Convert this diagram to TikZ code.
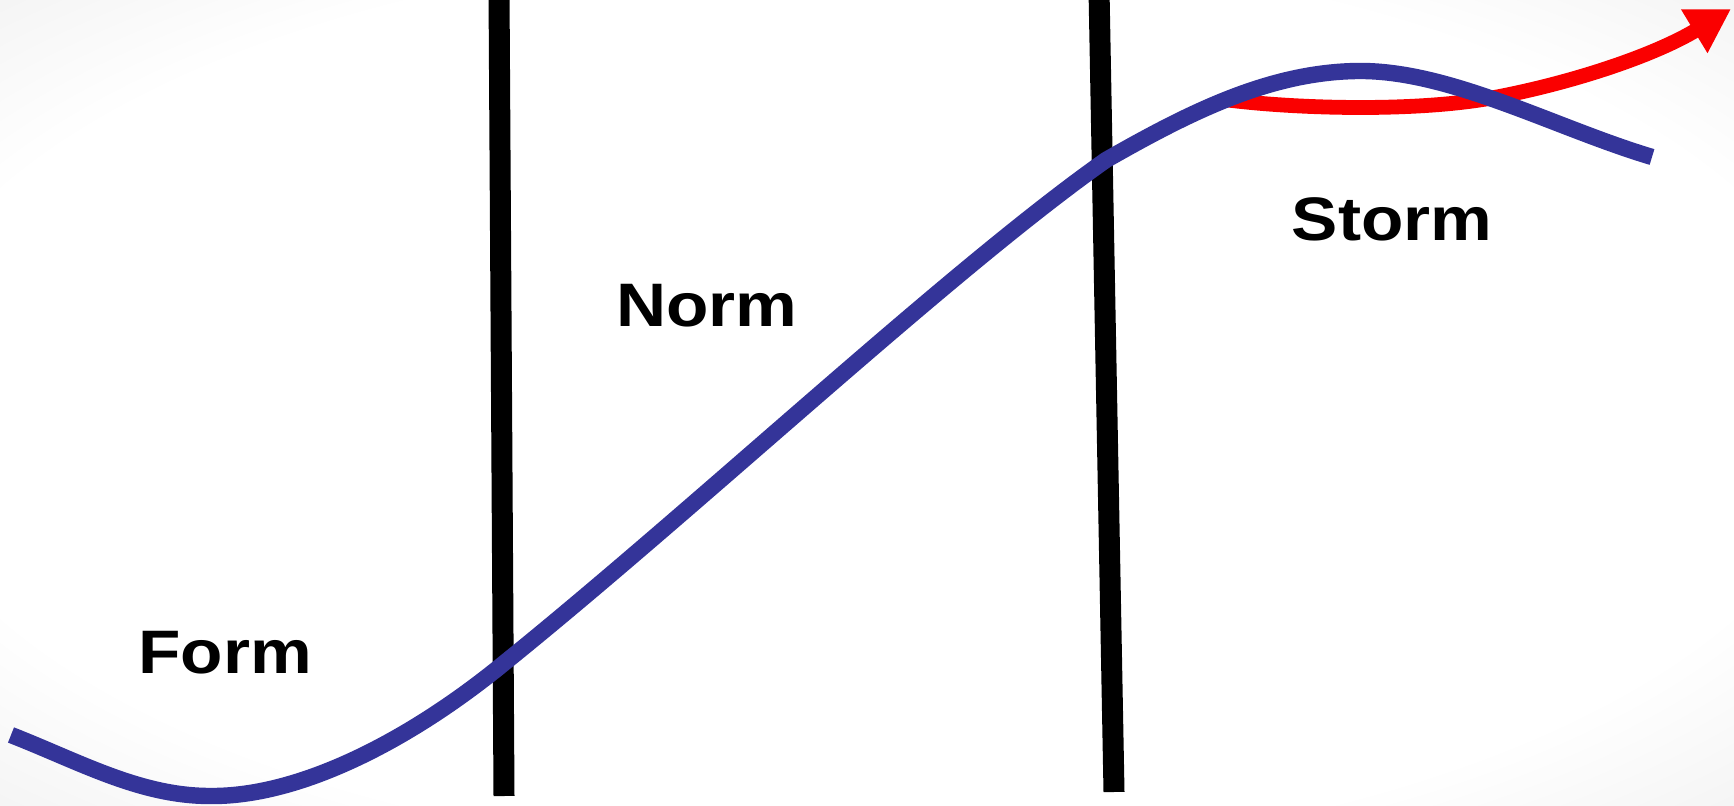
\documentclass[tikz,border=0pt]{standalone}
\usepackage{fontspec}
\usetikzlibrary{arrows.meta}
\newfontfamily\labelfont{Liberation Sans Bold}
\definecolor{curveblue}{RGB}{52,52,153}
\definecolor{arrowred}{RGB}{250,0,0}
\pgfdeclareradialshading{vign}{\pgfpoint{0bp}{0bp}}{color(0bp)=(white);color(28bp)=(white);color(50bp)=(black!12);color(71bp)=(black!26)}
\newcommand{\widetext}[1]{\scalebox{1.13}[1]{#1}}
\tikzset{
  divider/.style={line width=10.5pt, black},
  phase/.style={font=\labelfont\fontsize{30.7pt}{31pt}\selectfont, inner sep=0pt, anchor=base, text=black},
  bluecurve/.style={line width=8.2pt, curveblue, line cap=butt},
  redarrow/.style={line width=7.4pt, arrowred, line cap=butt, -{Triangle[length=21.5pt,width=24pt]}}
}
\begin{document}
\begin{tikzpicture}[x=0.5pt,y=-0.5pt]
\useasboundingbox (0,0) rectangle (1734,806);
\shade[shading=vign] (0,0) rectangle (1734,806);
\begin{scope}
\clip (0,0) rectangle (1734,806);
% dividers
\coordinate (d1t) at (499,-10);
\coordinate (d1b) at (504,796);
\coordinate (d2t) at (1099,-10);
\coordinate (d2b) at (1114,792);
\draw[divider] (d1t) -- (d1b);
\draw[divider] (d2t) -- (d2b);
% red arrow
\coordinate (rs) at (1228,100);
\coordinate (rx) at (1497,97);
\coordinate (rt) at (1731,9);
\draw[redarrow] (rs) .. controls (1300,109) and (1420,112) .. (rx)
  .. controls (1575,82) and (1655,55) .. (rt);
% blue curve
\coordinate (b0) at (11,735);
\coordinate (b1) at (210,796);
\coordinate (b2) at (503,664);
\coordinate (b3) at (1106,160);
\coordinate (b4) at (1358,71);
\coordinate (b5) at (1652,157);
\draw[bluecurve] (b0) .. controls (80,762) and (140,796) .. (b1)
  .. controls (300,797) and (410,740) .. (b2)
  .. controls (700,505) and (950,270) .. (b3)
  .. controls (1190,112) and (1270,72) .. (b4)
  .. controls (1450,70) and (1555,128) .. (b5);
\end{scope}
% labels
\node[phase] (form) at (225,673) {\widetext{Form}};
\node[phase] (norm) at (707,327) {\widetext{Norm}};
\node[phase] (storm) at (1392,241) {\widetext{Storm}};
\end{tikzpicture}
\end{document}
